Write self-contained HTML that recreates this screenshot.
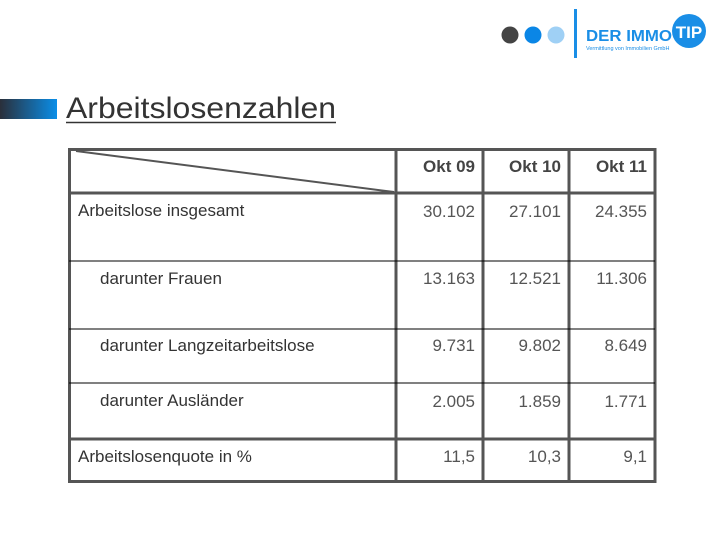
<!DOCTYPE html>
<html><head><meta charset="utf-8"><style>
html,body{margin:0;padding:0;background:#fff;}
svg{display:block;font-family:"Liberation Sans",sans-serif;}
</style></head><body>
<svg width="720" height="540" viewBox="0 0 720 540">
<defs><linearGradient id="g" x1="0" x2="1"><stop offset="0" stop-color="#2a2f3a"/><stop offset="1" stop-color="#0a8ee8"/></linearGradient></defs>
<g>
<circle cx="510" cy="35" r="8.5" fill="#444"/>
<circle cx="533" cy="35" r="8.5" fill="#0a86e6"/>
<circle cx="556" cy="35" r="8.5" fill="#9fd0f5"/>
<rect x="574" y="9" width="3" height="49" fill="#1a8ee6"/>
<text x="586" y="41" font-size="16" font-weight="bold" fill="#1a8ee6" textLength="86" lengthAdjust="spacingAndGlyphs">DER IMMO</text>
<text x="586" y="50" font-size="5.5" fill="#1a8ee6">Vermittlung von Immobilien GmbH</text>
<circle cx="689" cy="31" r="17" fill="#1a8ee6"/>
<text x="689" y="38" font-size="17" font-weight="bold" fill="#fff" text-anchor="middle">TIP</text>
</g>
<rect x="0" y="99" width="57" height="20" fill="url(#g)"/>
<text x="66" y="118" font-size="30" fill="#333" textLength="270" lengthAdjust="spacingAndGlyphs">Arbeitslosenzahlen</text>
<line x1="66" y1="122.5" x2="336" y2="122.5" stroke="#333" stroke-width="1.5"/>
<g stroke="#555" fill="none">
<rect x="69.5" y="149.5" width="585.5" height="332" stroke-width="3"/>
<line x1="396" y1="149" x2="396" y2="482" stroke-width="3"/>
<line x1="483" y1="149" x2="483" y2="482" stroke-width="3"/>
<line x1="569" y1="149" x2="569" y2="482" stroke-width="3"/>
<line x1="69" y1="193" x2="655" y2="193" stroke-width="3"/>
<line x1="69" y1="261" x2="655" y2="261" stroke="#000" stroke-width="1"/>
<line x1="69" y1="329" x2="655" y2="329" stroke="#000" stroke-width="1"/>
<line x1="69" y1="383" x2="655" y2="383" stroke="#000" stroke-width="1"/>
<line x1="69" y1="439" x2="655" y2="439" stroke-width="3"/>
<line x1="76" y1="151" x2="394" y2="192" stroke-width="2"/>
</g>
<g font-size="17" fill="#444" font-weight="bold" text-anchor="end">
<text x="475" y="172">Okt 09</text><text x="561" y="172">Okt 10</text><text x="647" y="172">Okt 11</text>
</g>
<g font-size="17" fill="#333">
<text x="78" y="216">Arbeitslose insgesamt</text>
<text x="100" y="284">darunter Frauen</text>
<text x="100" y="351">darunter Langzeitarbeitslose</text>
<text x="100" y="406">darunter Ausländer</text>
<text x="78" y="462">Arbeitslosenquote in %</text>
</g>
<g font-size="17" fill="#555" text-anchor="end">
<text x="475" y="217">30.102</text><text x="561" y="217">27.101</text><text x="647" y="217">24.355</text>
<text x="475" y="284">13.163</text><text x="561" y="284">12.521</text><text x="647" y="284">11.306</text>
<text x="475" y="351">9.731</text><text x="561" y="351">9.802</text><text x="647" y="351">8.649</text>
<text x="475" y="407">2.005</text><text x="561" y="407">1.859</text><text x="647" y="407">1.771</text>
<text x="475" y="462">11,5</text><text x="561" y="462">10,3</text><text x="647" y="462">9,1</text>
</g>
</svg>
</body></html>
